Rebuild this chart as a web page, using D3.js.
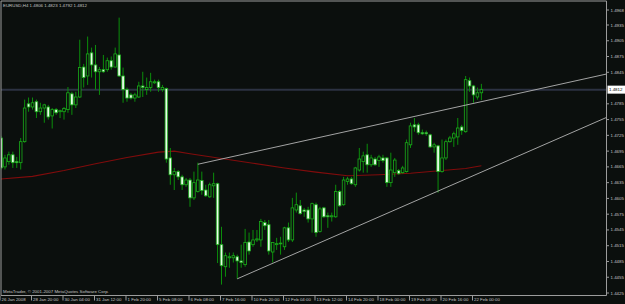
<!DOCTYPE html>
<html>
<head>
<meta charset="utf-8">
<script src="https://cdn.jsdelivr.net/npm/d3@7"></script>
<style>
  body { margin: 0; background: #0b0f0d; }
  text { font-family: "Liberation Sans", Arial, sans-serif; }
</style>
</head>
<body>
<script>
const width = 625;
const height = 304;

// EURUSD H4 bars
const open = [1.4720,1.4665,1.4675,1.4688,1.4675,1.4673,1.4713,1.4785,1.4779,1.4789,
  1.4770,1.4777,1.4779,1.4762,1.4774,1.4770,1.4770,1.4774,1.4804,1.4783,
  1.4798,1.4855,1.4838,1.4882,1.4859,1.4846,1.4850,1.4850,1.4867,1.4855,
  1.4878,1.4838,1.4812,1.4802,1.4796,1.4798,1.4819,1.4812,1.4816,1.4825,
  1.4827,1.4812,1.4814,1.4682,1.4650,1.4656,1.4646,1.4631,1.4640,1.4606,
  1.4618,1.4639,1.4621,1.4608,1.4629,1.4633,1.4517,1.4475,1.4492,1.4492,
  1.4494,1.4486,1.4479,1.4522,1.4517,1.4526,1.4526,1.4559,1.4555,1.4503,
  1.4517,1.4519,1.4513,1.4549,1.4526,1.4583,1.4591,1.4583,1.4583,1.4566,
  1.4593,1.4542,1.4587,1.4572,1.4570,1.4570,1.4618,1.4593,1.4637,1.4642,
  1.4631,1.4659,1.4675,1.4688,1.4669,1.4680,1.4677,1.4682,1.4682,1.4635,
  1.4654,1.4658,1.4654,1.4656,1.4707,1.4745,1.4745,1.4730,1.4730,1.4726,
  1.4703,1.4705,1.4656,1.4682,1.4713,1.4720,1.4722,1.4741,1.4732,1.4829,
  1.4819,1.4798,1.4806];
const high = [1.4724,1.4688,1.4694,1.4694,1.4684,1.4720,1.4793,1.4797,1.4797,1.4793,
  1.4787,1.4785,1.4783,1.4777,1.4777,1.4774,1.4779,1.4817,1.4808,1.4808,
  1.4907,1.4861,1.4913,1.4892,1.4897,1.4855,1.4878,1.4873,1.4875,1.4892,
  1.4949,1.4854,1.4816,1.4806,1.4806,1.4827,1.4846,1.4835,1.4844,1.4831,
  1.4831,1.4821,1.4816,1.4701,1.4663,1.4659,1.4650,1.4644,1.4644,1.4656,
  1.4673,1.4656,1.4631,1.4635,1.4654,1.4635,1.4551,1.4502,1.4502,1.4502,
  1.4498,1.4517,1.4547,1.4540,1.4545,1.4545,1.4566,1.4564,1.4564,1.4522,
  1.4530,1.4532,1.4551,1.4559,1.4606,1.4616,1.4602,1.4587,1.4589,1.4597,
  1.4597,1.4589,1.4589,1.4578,1.4578,1.4631,1.4621,1.4646,1.4646,1.4646,
  1.4665,1.4701,1.4694,1.4709,1.4688,1.4684,1.4688,1.4688,1.4684,1.4692,
  1.4682,1.4661,1.4667,1.4717,1.4749,1.4758,1.4749,1.4736,1.4734,1.4728,
  1.4711,1.4707,1.4717,1.4717,1.4724,1.4732,1.4758,1.4745,1.4838,1.4835,
  1.4821,1.4816,1.4823];
const low = [1.4660,1.4660,1.4669,1.4663,1.4663,1.4660,1.4711,1.4770,1.4774,1.4758,
  1.4764,1.4749,1.4755,1.4738,1.4764,1.4758,1.4755,1.4768,1.4764,1.4777,
  1.4796,1.4816,1.4821,1.4835,1.4812,1.4802,1.4844,1.4846,1.4850,1.4854,
  1.4836,1.4787,1.4789,1.4793,1.4789,1.4796,1.4798,1.4802,1.4808,1.4823,
  1.4808,1.4808,1.4673,1.4631,1.4621,1.4640,1.4621,1.4627,1.4589,1.4602,
  1.4616,1.4612,1.4608,1.4606,1.4606,1.4482,1.4441,1.4456,1.4473,1.4483,
  1.4452,1.4473,1.4475,1.4498,1.4513,1.4522,1.4513,1.4545,1.4498,1.4483,
  1.4507,1.4498,1.4507,1.4522,1.4522,1.4578,1.4574,1.4570,1.4559,1.4540,
  1.4532,1.4540,1.4568,1.4549,1.4561,1.4568,1.4589,1.4591,1.4631,1.4631,
  1.4627,1.4656,1.4654,1.4654,1.4665,1.4667,1.4665,1.4673,1.4627,1.4627,
  1.4646,1.4650,1.4652,1.4654,1.4701,1.4732,1.4726,1.4726,1.4724,1.4701,
  1.4692,1.4616,1.4654,1.4678,1.4711,1.4703,1.4707,1.4726,1.4730,1.4808,
  1.4787,1.4793,1.4792];
const close = [1.4663,1.4682,1.4688,1.4673,1.4673,1.4713,1.4777,1.4779,1.4787,1.4770,
  1.4777,1.4783,1.4760,1.4774,1.4768,1.4772,1.4776,1.4806,1.4783,1.4798,
  1.4854,1.4835,1.4880,1.4859,1.4846,1.4850,1.4846,1.4867,1.4855,1.4880,
  1.4838,1.4812,1.4796,1.4796,1.4802,1.4819,1.4816,1.4816,1.4827,1.4827,
  1.4816,1.4816,1.4680,1.4650,1.4656,1.4646,1.4631,1.4640,1.4606,1.4635,
  1.4640,1.4620,1.4610,1.4631,1.4633,1.4517,1.4477,1.4496,1.4494,1.4496,
  1.4486,1.4483,1.4521,1.4505,1.4526,1.4528,1.4561,1.4553,1.4505,1.4521,
  1.4519,1.4520,1.4549,1.4526,1.4587,1.4593,1.4576,1.4580,1.4566,1.4595,
  1.4540,1.4585,1.4570,1.4570,1.4572,1.4618,1.4591,1.4640,1.4642,1.4633,
  1.4663,1.4680,1.4686,1.4669,1.4682,1.4669,1.4684,1.4677,1.4635,1.4659,
  1.4678,1.4652,1.4663,1.4711,1.4743,1.4741,1.4730,1.4728,1.4728,1.4703,
  1.4707,1.4656,1.4682,1.4713,1.4720,1.4728,1.4739,1.4734,1.4831,1.4819,
  1.4802,1.4806,1.4812];

// moving average (red), sampled at these bars
const maBars = [0, 8, 16, 24, 32, 40, 44, 48, 56, 64, 72, 80, 88, 96, 104, 112, 118, 122];
const maValues = [1.4642, 1.4647, 1.4658, 1.4671, 1.4683, 1.4693, 1.4695, 1.4690, 1.4681,
  1.4672, 1.4663, 1.4655, 1.4648, 1.4650, 1.4653, 1.4658, 1.4662, 1.4667];

// two drawn trend lines: [bar, price] anchors, extended to the right
const trendUpper = [[50, 1.4670], [105, 1.4761]];
const trendLower = [[60, 1.4452], [111, 1.4619]];

const bid = 1.4812;
const priceTicks = [1.4935, 1.4905, 1.4875, 1.4845, 1.4785, 1.4755, 1.4725, 1.4695,
  1.4665, 1.4635, 1.4605, 1.4575, 1.4545, 1.4515, 1.4485, 1.4455, 1.4425];
const topPrice = 1.4968;
const timeLabels = ['26 Jan 2008', '28 Jan 20:00', '30 Jan 04:00', '31 Jan 12:00', '1 Feb 20:00',
  '5 Feb 08:00', '6 Feb 08:00', '7 Feb 16:00', '10 Feb 20:00', '12 Feb 04:00', '13 Feb 12:00',
  '14 Feb 20:00', '18 Feb 00:00', '19 Feb 08:00', '20 Feb 16:00', '22 Feb 00:00'];
const labelEvery = 8;

const plot = {left: 1, top: 1, right: 606.5, bottom: 295.5};
const fontSize = 4.4;
const textColor = '#c4c4c4';

const svg = d3.select('body').append('svg').attr('width', width).attr('height', height)
  .style('display', 'block');
svg.append('rect').attr('width', width).attr('height', height).attr('fill', '#0b0f0d');

const x = d3.scaleLinear().domain([0, labelEvery]).range([1, 32.5]);
const y = d3.scaleLinear().domain([1.4425, 1.4935]).range([293, 25]);

svg.append('clipPath').attr('id', 'clip').append('rect')
  .attr('x', plot.left).attr('y', plot.top)
  .attr('width', plot.right - plot.left).attr('height', plot.bottom - plot.top);

const g = svg.append('g').attr('clip-path', 'url(#clip)');

// bid line
g.append('line')
  .attr('x1', plot.left).attr('x2', plot.right)
  .attr('y1', y(bid)).attr('y2', y(bid))
  .attr('stroke', '#2c3242').attr('stroke-width', 2);

// moving average
g.append('path')
  .datum(maBars.map((b, k) => [b, maValues[k]]))
  .attr('fill', 'none')
  .attr('stroke', '#800c0c')
  .attr('stroke-width', 1.1)
  .attr('d', d3.line().x(d => x(d[0])).y(d => y(d[1])));

// candles
const bars = open.map((o, i) => ({i, o, h: high[i], l: low[i], c: close[i]}));

g.selectAll('line.wick').data(bars).join('line')
  .attr('class', 'wick')
  .attr('x1', d => x(d.i)).attr('x2', d => x(d.i))
  .attr('y1', d => y(d.h)).attr('y2', d => y(d.l))
  .attr('stroke', '#0b8e0b').attr('stroke-width', 1);

g.selectAll('rect.body').data(bars).join('rect')
  .attr('class', 'body')
  .attr('x', d => x(d.i) - 1.3)
  .attr('width', 2.6)
  .attr('y', d => y(Math.max(d.o, d.c)))
  .attr('height', d => Math.max(0.8, Math.abs(y(d.o) - y(d.c))))
  .attr('fill', d => d.c >= d.o ? '#0b0f0d' : '#e8fbe8')
  .attr('stroke', '#1aae1a')
  .attr('stroke-width', 0.8);

// trend lines, extended to the right edge
const xEnd = x.invert(plot.right);
[trendUpper, trendLower].forEach(t => {
  const slope = (t[1][1] - t[0][1]) / (t[1][0] - t[0][0]);
  const pEnd = t[0][1] + slope * (xEnd - t[0][0]);
  g.append('line')
    .attr('x1', x(t[0][0])).attr('y1', y(t[0][1]))
    .attr('x2', x(xEnd)).attr('y2', y(pEnd))
    .attr('stroke', '#b4b4b4').attr('stroke-width', 0.9);
});

// frame
svg.append('path')
  .attr('d', `M${plot.left},${plot.bottom}V${plot.top}H${plot.right}V${plot.bottom}H${plot.left}`)
  .attr('fill', 'none').attr('stroke', '#9c9c9c').attr('stroke-width', 1);

// price axis
const yLabels = [topPrice].concat(priceTicks);
const ay = svg.append('g');
ay.selectAll('line').data(yLabels).join('line')
  .attr('x1', plot.right).attr('x2', plot.right + 2.5)
  .attr('y1', d => Math.max(10, y(d))).attr('y2', d => Math.max(10, y(d)))
  .attr('stroke', '#9c9c9c');
ay.selectAll('text').data(yLabels).join('text')
  .attr('x', plot.right + 4)
  .attr('y', d => Math.max(10, y(d)))
  .attr('dy', '0.35em')
  .attr('font-size', fontSize)
  .attr('fill', textColor)
  .text(d => d.toFixed(4));

// bid box
ay.append('rect')
  .attr('x', plot.right + 1).attr('y', y(bid) - 4)
  .attr('width', width - plot.right - 1).attr('height', 8)
  .attr('fill', '#ffffff');
ay.append('text')
  .attr('x', plot.right + 2.5).attr('y', y(bid)).attr('dy', '0.35em')
  .attr('font-size', fontSize).attr('fill', '#000000')
  .text(bid.toFixed(4));

// time axis
const ax = svg.append('g');
ax.selectAll('line').data(timeLabels).join('line')
  .attr('x1', (d, k) => x(k * labelEvery) - 1).attr('x2', (d, k) => x(k * labelEvery) - 1)
  .attr('y1', plot.bottom).attr('y2', plot.bottom + 5)
  .attr('stroke', '#9c9c9c');
ax.selectAll('text').data(timeLabels).join('text')
  .attr('x', (d, k) => x(k * labelEvery) + 0.5)
  .attr('y', 299.8)
  .attr('dy', '0.35em')
  .attr('font-size', fontSize)
  .attr('fill', textColor)
  .text(d => d);

// header and copyright
const last = bars[bars.length - 1];
svg.append('text')
  .attr('x', 3).attr('y', 5.5).attr('dy', '0.35em')
  .attr('font-size', fontSize).attr('fill', textColor)
  .text(`EURUSD,H4  ${last.o.toFixed(4)} ${last.h.toFixed(4)} ${last.l.toFixed(4)} ${last.c.toFixed(4)}`);
svg.append('text')
  .attr('x', 3).attr('y', 291.5).attr('dy', '0.35em')
  .attr('font-size', fontSize).attr('fill', textColor)
  .text('MetaTrader, © 2001-2007 MetaQuotes Software Corp.');
</script>
</body>
</html>
